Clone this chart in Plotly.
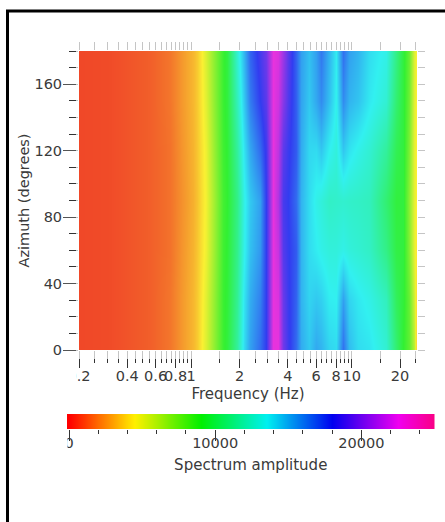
import math
import plotly.graph_objects as go

W, H = 445, 522
FONT = "DejaVu Sans"
TXT = "#3a3a3a"

freq_hz = [0.2, 0.313, 0.556, 0.741, 0.893, 1.03, 1.09, 1.17, 1.23, 1.38, 1.57, 1.68, 1.94, 2.12, 2.34,
           2.70, 2.91, 3.21, 3.46, 3.72, 3.99, 4.48, 4.81, 5.40, 5.97, 6.41, 7.19, 7.96, 8.81, 9.60,
           10.9, 12.8, 16.4, 18.9, 20.9, 22.8, 24.5, 25.5]
azimuth_deg = [0, 30, 60, 90, 120, 150, 180]
amp_az0 =   [100, 200, 700, 1300, 2300, 3000, 3500, 4500, 5200, 6900, 8800, 9300, 11500, 14000, 15500,
             16800, 18000, 22300, 22300, 19500, 18300, 16800, 15200, 14500, 15300, 15000, 14200, 14000, 16700, 14800,
             14000, 13800, 12800, 10500, 9000, 8000, 6000, 3000]
amp_az30 =  [100, 200, 700, 1300, 2300, 3000, 3500, 4400, 5100, 6800, 8800, 9200, 11300, 13800, 15200,
             16300, 18000, 22300, 22000, 19300, 18200, 17000, 15000, 14200, 14500, 14300, 13600, 13500, 15500, 14200,
             13700, 13300, 12300, 10000, 9200, 7800, 5500, 3500]
amp_az60 =  [100, 200, 700, 1200, 2200, 2900, 3400, 4200, 4800, 6600, 8700, 9100, 11100, 13400, 14700,
             15700, 18000, 22300, 21500, 18800, 18100, 17200, 15000, 14000, 13600, 13300, 13000, 13000, 13300, 13000,
             12800, 12500, 11000, 9500, 9300, 7200, 5000, 4000]
amp_az90 =  [100, 200, 700, 1200, 2100, 2800, 3300, 4100, 4700, 6500, 8600, 9000, 11000, 13300, 14500,
             15500, 18000, 22300, 21000, 18500, 18000, 16800, 15000, 14000, 13300, 13000, 12500, 12600, 12700, 12600,
             12500, 12300, 10500, 9300, 9300, 7000, 5000, 4300]
amp_az120 = [100, 200, 700, 1200, 2200, 2900, 3400, 4200, 4800, 6700, 8700, 9100, 11500, 13800, 15300,
             16800, 18300, 22300, 21300, 19000, 18200, 17200, 15200, 14100, 14000, 14500, 13500, 13000, 14500, 13800,
             13300, 12800, 11500, 9800, 9300, 7300, 5000, 4300]
amp_az150 = [100, 200, 700, 1300, 2300, 3000, 3500, 4400, 5100, 6900, 8800, 9300, 12200, 14500, 16400,
             18000, 19000, 22300, 21700, 20000, 18700, 17100, 15400, 14500, 15300, 16000, 14700, 13400, 16000, 15000,
             14600, 13700, 12800, 10500, 9300, 7600, 5100, 4300]
amp_az180 = [100, 200, 700, 1300, 2300, 3000, 3500, 4500, 5300, 7000, 8800, 9400, 12800, 15000, 17000,
             18500, 19500, 22300, 22000, 20500, 19000, 17000, 15500, 14700, 15500, 16500, 15000, 13600, 16700, 15500,
             15000, 14000, 13300, 11000, 9300, 7800, 5200, 4300]
amp_grid = [amp_az0, amp_az30, amp_az60, amp_az90, amp_az120, amp_az150, amp_az180]

x_major = [0.2, 0.4, 0.6, 0.8, 1, 2, 4, 6, 8, 10, 20]
x_major_text = ["0.2", "0.4", "0.6", "0.8", "1", "2", "4", "6", "8", "10", "20"]
x_minor = [0.25, 0.3, 0.35, 0.45, 0.5, 0.55, 0.65, 0.7, 0.75, 0.85, 0.9, 0.95, 1.5, 2.5, 3, 3.5, 4.5, 5, 5.5,
           6.5, 7, 7.5, 8.5, 9, 9.5, 15, 25]
y_major = [0, 40, 80, 120, 160]
y_minor = [10, 20, 30, 50, 60, 70, 90, 100, 110, 130, 140, 150, 170, 180]
bar_levels = [0, 1000, 2000, 3000, 4000, 5000, 6000, 7000, 8000, 9000, 10000, 11000, 12000, 13000, 14000,
              15000, 16000, 17000, 18000, 19000, 20000, 21000, 22000, 23000, 24000, 25000]

scale_map = [[0, "rgb(240,68,40)"], [0.18, "rgb(250,240,50)"], [0.36, "rgb(50,240,50)"],
             [0.54, "rgb(50,240,240)"], [0.72, "rgb(50,60,240)"], [0.90, "rgb(240,50,220)"], [1, "rgb(240,50,140)"]]
scale_bar = [[0, "rgb(255,0,0)"], [0.18, "rgb(255,240,0)"], [0.36, "rgb(0,240,0)"],
             [0.54, "rgb(0,240,240)"], [0.72, "rgb(0,0,240)"], [0.90, "rgb(240,0,240)"], [1, "rgb(250,0,130)"]]

def dx(a, b):
    return [a / W, b / W]
def dy(top, bottom):
    return [(H - bottom) / H, (H - top) / H]

L, R, T, B = 79, 417, 51, 350
xr = [math.log10(0.2), math.log10(25.5)]
yr = [0, 180]
FAINT = "rgba(90,90,90,0.35)"
GRID = "rgba(60,60,60,0.07)"

fig = go.Figure()
fig.add_trace(go.Heatmap(x=freq_hz, y=azimuth_deg, z=amp_grid, zmin=0, zmax=25000, zsmooth="best",
                         colorscale=scale_map, showscale=False, xaxis="x", yaxis="y", hoverinfo="skip"))
fig.add_trace(go.Scatter(x=[0.2, 25], y=[0, 180], mode="markers", marker=dict(opacity=0, size=1),
                         xaxis="x3", yaxis="y3", showlegend=False, hoverinfo="skip"))
fig.add_trace(go.Heatmap(x=bar_levels, y=[0, 1], z=[bar_levels, bar_levels], zmin=0, zmax=25000, zsmooth="best",
                         colorscale=scale_bar, showscale=False, xaxis="x2", yaxis="y2", hoverinfo="skip"))

fig.update_layout(
    width=W, height=H, margin=dict(l=0, r=0, t=0, b=0, autoexpand=False),
    paper_bgcolor="white", plot_bgcolor="white", showlegend=False,
    font=dict(family=FONT, size=14.5, color=TXT),
    xaxis=dict(type="log", range=xr, domain=dx(L, R), anchor="y", tickmode="array",
               tickvals=x_major + x_minor, showticklabels=False, ticks="outside", ticklen=8, tickwidth=1,
               tickcolor=FAINT, mirror="ticks", showgrid=False, zeroline=False, showline=False),
    yaxis=dict(range=yr, domain=dy(T, B), anchor="x", tickmode="array",
               tickvals=y_major + y_minor, showticklabels=False, ticks="outside", ticklen=7, tickwidth=1,
               tickcolor=FAINT, mirror="ticks", showgrid=False, zeroline=False, showline=False),
    xaxis3=dict(type="log", range=xr, domain=dx(L, R), overlaying="x", anchor="free", position=(H - 358) / H,
                tickmode="array", tickvals=x_major, ticktext=x_major_text, ticks="outside", ticklen=9, tickwidth=1,
                tickcolor="#333", tickangle=0, ticklabelstandoff=-4,
                minor=dict(tickmode="array", tickvals=x_minor, ticks="outside", ticklen=4, tickwidth=1, tickcolor="#333", showgrid=False),
                showgrid=True, gridcolor=GRID, zeroline=False, showline=False,
                title=dict(text="Frequency (Hz)", standoff=5, font=dict(size=15))),
    yaxis3=dict(range=yr, domain=dy(T, B), overlaying="y", anchor="free", position=76 / W,
                tickmode="array", tickvals=y_major, ticks="outside", ticklen=13, tickwidth=1, tickcolor="#555",
                ticklabelstandoff=-2,
                minor=dict(tickmode="array", tickvals=y_minor, ticks="outside", ticklen=7, tickwidth=1, tickcolor="#333", showgrid=False),
                showgrid=True, gridcolor=GRID, zeroline=False, showline=False,
                title=dict(text="Azimuth (degrees)", standoff=0, font=dict(size=14.5))),
    xaxis2=dict(range=[-137, 25000], domain=dx(67, 434.5), anchor="y2", tickmode="array",
                tickvals=[0, 10000, 20000], ticks="outside", ticklen=11, tickwidth=1, tickcolor="#333", tickangle=0,
                ticklabelstandoff=-10,
                minor=dict(tickmode="array", tickvals=[2000, 4000, 6000, 8000, 12000, 14000, 16000, 18000, 22000, 24000],
                           ticks="outside", ticklen=4, tickwidth=1, tickcolor="#333", showgrid=False),
                showgrid=False, zeroline=False, showline=False, tickformat="d",
                title=dict(text="Spectrum amplitude", standoff=9, font=dict(size=15))),
    yaxis2=dict(range=[0, 1], domain=dy(414, 429), anchor="x2", visible=False),
    shapes=[
        dict(type="line", xref="paper", yref="paper", x0=7.5 / W, x1=7.5 / W, y0=0, y1=(H - 10) / H,
             line=dict(color="black", width=3)),
        dict(type="line", xref="paper", yref="paper", x0=6 / W, x1=1, y0=(H - 11) / H, y1=(H - 11) / H,
             line=dict(color="black", width=3)),
        dict(type="rect", xref="paper", yref="paper", x0=60 / W, x1=67.5 / W, y0=(H - 452) / H, y1=(H - 434) / H,
             fillcolor="white", line=dict(width=0), layer="above"),
        dict(type="rect", xref="paper", yref="paper", x0=66 / W, x1=76 / W, y0=(H - 384) / H, y1=(H - 368) / H,
             fillcolor="white", line=dict(width=0), layer="above"),
    ],
)
fig.write_html("out.html", config=dict(displayModeBar=False),
               post_script="document.body.style.margin='0';document.documentElement.style.overflow='hidden';")
